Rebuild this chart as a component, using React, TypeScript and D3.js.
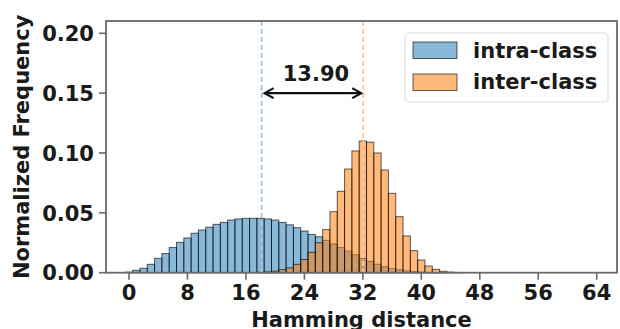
import React from "react";
import * as d3 from "d3";

// Hamming distance bins 0..64
const intraFreq = [
  0.0005, 0.002, 0.0037, 0.007, 0.012, 0.016, 0.021, 0.0254, 0.029, 0.033,
  0.0357, 0.038, 0.0404, 0.042, 0.044, 0.0449, 0.0454, 0.0455, 0.0454, 0.0449,
  0.044, 0.042, 0.04, 0.0376, 0.0348, 0.032, 0.03, 0.027, 0.024, 0.021,
  0.018, 0.015, 0.012, 0.0095, 0.007, 0.005, 0.0035, 0.0025, 0.0015, 0.001,
  0.0005, 0.0003, 0.0002, 0.0001, 0, 0, 0, 0, 0, 0,
  0, 0, 0, 0, 0, 0, 0, 0, 0, 0,
  0, 0, 0, 0, 0,
];
const interFreq = [
  0, 0, 0, 0, 0, 0, 0, 0, 0, 0,
  0, 0, 0, 0, 0, 0, 0, 0, 0.0003, 0.0007,
  0.0013, 0.0025, 0.004, 0.007, 0.011, 0.017, 0.025, 0.036, 0.051, 0.068,
  0.0866, 0.1017, 0.11, 0.109, 0.1, 0.0858, 0.0663, 0.0468, 0.0307, 0.0184,
  0.0106, 0.0056, 0.0028, 0.0012, 0.0005, 0.0002, 0, 0, 0, 0,
  0, 0, 0, 0, 0, 0, 0, 0, 0, 0,
  0, 0, 0, 0, 0,
];
const xTicks = [0, 8, 16, 24, 32, 40, 48, 56, 64];
const yTicks = [0, 0.05, 0.1, 0.15, 0.2];
const intraMean = 18.15;
const interMean = 32.05;
const gapLabel = "13.90";
const seriesNames = ["intra-class", "inter-class"];

const W = 620;
const H = 329;
const FONT = "'DejaVu Sans', sans-serif";
const TXT = "#1a1a1a";
const FS = 21;

export default function App() {
  const x = d3.scaleLinear().domain([0, 64]).range([129, 596.7]);
  const y = d3.scaleLinear().domain([0, 0.2]).range([272.7, 33.3]);
  const left = 106, right = 617, top = 21, bottom = y(0);
  const bw = x(1) - x(0);

  const blueFill = "rgba(31,119,180,0.52)";
  const orangeFill = "rgba(255,127,14,0.55)";
  const edge = "rgba(0,0,0,0.62)";

  const bars = (vals: number[], fill: string, key: string) =>
    vals.map((v, k) => (
      <rect
        key={key + k}
        x={x(k) - bw / 2}
        y={y(v)}
        width={bw}
        height={Math.max(0, bottom - y(v))}
        fill={fill}
        stroke={edge}
        strokeWidth={1}
      />
    ));

  const ay = y(0.15);
  const ax1 = x(intraMean) + 3;
  const ax2 = x(interMean) - 2;

  return (
    <svg
      width={W}
      height={H}
      style={{ position: "absolute", left: 0, top: 0, background: "#fff" }}
      fontFamily={FONT}
    >
      <rect x={0} y={0} width={W} height={H} fill="#fff" />
      {bars(intraFreq, blueFill, "b")}
      {bars(interFreq, orangeFill, "o")}
      <line x1={x(intraMean)} x2={x(intraMean)} y1={top} y2={bottom}
        stroke="#a6c8e8" strokeWidth={2} strokeDasharray="5,3" />
      <line x1={x(interMean)} x2={x(interMean)} y1={top} y2={bottom}
        stroke="#ffcb9a" strokeWidth={2} strokeDasharray="5,3" />
      {/* frame */}
      <rect x={left} y={top} width={right - left} height={bottom - top}
        fill="none" stroke="#6a6a6a" strokeWidth={1.8} />
      {/* y ticks */}
      {yTicks.map((t) => (
        <g key={"y" + t}>
          <line x1={left - 7} x2={left} y1={y(t)} y2={y(t)} stroke="#6a6a6a" strokeWidth={1.6} />
          <text x={left - 12} y={y(t) + 7.7} textAnchor="end" fontSize={FS}
            fontWeight="bold" fill={TXT}>{t.toFixed(2)}</text>
        </g>
      ))}
      {/* x ticks */}
      {xTicks.map((t) => (
        <g key={"x" + t}>
          <line x1={x(t)} x2={x(t)} y1={bottom} y2={bottom + 7} stroke="#6a6a6a" strokeWidth={1.6} />
          <text x={x(t)} y={299.5} textAnchor="middle" fontSize={FS}
            fontWeight="bold" fill={TXT}>{t}</text>
        </g>
      ))}
      <text x={(left + right) / 2} y={326.5} textAnchor="middle" fontSize={FS}
        fontWeight="bold" fill={TXT}>Hamming distance</text>
      <text transform={`translate(29,${(top + bottom) / 2}) rotate(-90)`}
        textAnchor="middle" fontSize={FS} fontWeight="bold" fill={TXT}>
        Normalized Frequency
      </text>
      {/* arrow */}
      <line x1={ax1} x2={ax2} y1={ay} y2={ay} stroke="#111" strokeWidth={2.2} />
      <path d={`M${ax1 + 9},${ay - 5} L${ax1},${ay} L${ax1 + 9},${ay + 5}`}
        fill="none" stroke="#111" strokeWidth={2.2} />
      <path d={`M${ax2 - 9},${ay - 5} L${ax2},${ay} L${ax2 - 9},${ay + 5}`}
        fill="none" stroke="#111" strokeWidth={2.2} />
      <text x={(ax1 + ax2) / 2 + 3} y={80.5} textAnchor="middle" fontSize={FS}
        fontWeight="bold" fill={TXT}>{gapLabel}</text>
      {/* legend */}
      <rect x={405} y={33} width={203} height={69} rx={4} fill="rgba(255,255,255,0.8)"
        stroke="#e0e0e0" strokeWidth={1.2} />
      {seriesNames.map((n, i) => (
        <g key={n}>
          <rect x={413} y={42 + i * 32} width={44} height={16.5}
            fill={i === 0 ? blueFill : orangeFill} stroke={edge} strokeWidth={1} />
          <text x={473} y={57.5 + i * 31.5} fontSize={FS} fontWeight="bold" fill={TXT}>{n}</text>
        </g>
      ))}
    </svg>
  );
}
